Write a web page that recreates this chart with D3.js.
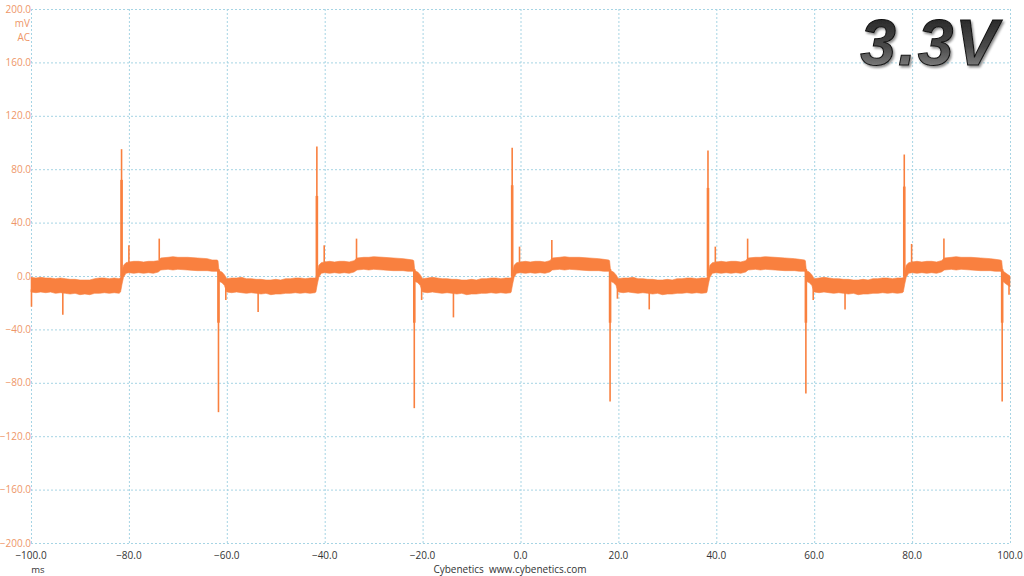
<!DOCTYPE html>
<html>
<head>
<meta charset="utf-8">
<script src="https://cdn.jsdelivr.net/npm/d3@7"></script>
<style>
  html, body { margin: 0; padding: 0; background: #fff; }
  svg { display: block; font-family: "Open Sans", "Noto Sans", sans-serif; }
</style>
</head>
<body>
<div id="chart"></div>
<script>
// ticks
var xTicks = [-100, -80, -60, -40, -20, 0, 20, 40, 60, 80, 100];
var yTicks = [-200, -160, -120, -80, -40, 0, 40, 80, 120, 160, 200];

// noise band of the trace: [time ms, lower mV, upper mV]
var envelope = [
  [-100.0, -12, -1], [-99.0, -12.5, -1.5], [-98.0, -12, -1], [-97.0, -12.5, -1.5],
  [-96.0, -12, -1.5], [-95.0, -13, -2], [-94.0, -12.5, -1.5], [-93.0, -13, -2],
  [-92.0, -13.5, -2.5], [-91.0, -13, -2.5], [-90.0, -14, -3], [-89.0, -13.5, -3],
  [-88.0, -14, -3], [-87.0, -13, -2], [-86.0, -13, -1.5], [-85.0, -12.5, -1.5],
  [-84.0, -13, -2], [-83.0, -12.5, -1.5], [-82.0, -13, -2], [-81.7, -12, -1],
  [-81.4, -6, 3], [-81.1, -1, 8], [-80.6, 2, 10], [-80.0, 2.5, 10.5],
  [-79.0, 2, 11], [-78.0, 2.5, 11], [-77.0, 2, 10.5], [-76.0, 2.5, 11],
  [-75.0, 2, 11], [-74.0, 3, 11.5], [-73.5, 4.5, 13.5], [-72.0, 5, 14],
  [-71.0, 4.5, 14.5], [-70.0, 5, 14], [-68.0, 4.5, 14], [-66.0, 4, 13.5],
  [-64.0, 4, 13], [-63.0, 3.5, 12], [-62.0, 3.5, 12], [-61.8, 3, 11.5],
  [-61.6, -4, 4], [-61.0, -5, 3], [-60.5, -7, 1], [-60.0, -12, -2],
  [-59.0, -12.5, -1.5], [-58.0, -12, -1.5], [-57.0, -12.5, -1], [-56.0, -13, -2],
  [-55.0, -12.5, -2], [-54.0, -13, -2.5], [-53.0, -13.5, -2.5], [-52.0, -13, -3],
  [-51.0, -14, -3], [-50.0, -13.5, -2.5], [-49.0, -13.5, -3], [-48.0, -13, -2],
  [-47.0, -13, -2], [-46.0, -12.5, -1.5], [-45.0, -13, -1.5], [-44.0, -12.5, -2],
  [-43.0, -13, -1.5], [-42.0, -12.5, -1.5], [-41.8, -12, -1],
  [-41.5, -6, 3], [-41.2, -1, 8], [-40.7, 2, 10], [-40.0, 2.5, 10.5],
  [-39.0, 2, 11], [-38.0, 2.5, 10.5], [-37.0, 2, 11], [-36.0, 2.5, 11],
  [-35.0, 2, 10.5], [-34.0, 3, 11.5], [-33.4, 4.5, 13.5], [-32.0, 5, 14],
  [-31.0, 4.5, 14], [-30.0, 5, 14.5], [-28.0, 4.5, 14], [-26.0, 4, 13.5],
  [-24.0, 4, 13], [-23.0, 3.5, 12.5], [-22.0, 3.5, 12], [-21.8, 3, 11.5],
  [-21.6, -4, 4], [-21.0, -5, 3], [-20.5, -7, 1], [-20.0, -12, -2],
  [-19.0, -12.5, -1.5], [-18.0, -12, -1], [-17.0, -12.5, -1.5], [-16.0, -13, -2],
  [-15.0, -12.5, -2], [-14.0, -13, -2.5], [-13.0, -13.5, -2.5], [-12.0, -13, -3],
  [-11.0, -14, -3], [-10.0, -13.5, -2.5], [-9.0, -13.5, -3], [-8.0, -13, -2],
  [-7.0, -13, -2], [-6.0, -12.5, -1.5], [-5.0, -13, -1.5], [-4.0, -12.5, -2],
  [-3.0, -13, -1.5], [-2.0, -12.5, -1.5], [-1.9, -12, -1],
  [-1.6, -6, 3], [-1.3, -1, 8], [-0.8, 2, 10], [0.0, 2.5, 10.5],
  [1.0, 2, 11], [2.0, 2.5, 10.5], [3.0, 2, 11], [4.0, 2.5, 11],
  [5.0, 2, 10.5], [6.0, 3, 11.5], [6.5, 4.5, 13.5], [8.0, 5, 14],
  [9.0, 4.5, 14.5], [10.0, 5, 14], [12.0, 4.5, 14], [14.0, 4, 13.5],
  [16.0, 4, 13], [17.0, 3.5, 12.5], [18.0, 3.5, 12], [18.2, 3, 11.5],
  [18.4, -4, 4], [19.0, -5, 3], [19.5, -7, 1], [20.0, -12, -2],
  [21.0, -12.5, -1.5], [22.0, -12, -1.5], [23.0, -12.5, -1], [24.0, -13, -2],
  [25.0, -12.5, -2], [26.0, -13, -2.5], [27.0, -13.5, -2.5], [28.0, -13, -3],
  [29.0, -14, -3], [30.0, -13.5, -2.5], [31.0, -13.5, -3], [32.0, -13, -2],
  [33.0, -13, -2], [34.0, -12.5, -1.5], [35.0, -13, -1.5], [36.0, -12.5, -2],
  [37.0, -13, -1.5], [38.0, -12.5, -1.5], [38.1, -12, -1],
  [38.4, -6, 3], [38.7, -1, 8], [39.2, 2, 10], [40.0, 2.5, 10.5],
  [41.0, 2, 11], [42.0, 2.5, 10.5], [43.0, 2, 11], [44.0, 2.5, 11],
  [45.0, 2, 10.5], [46.0, 3, 11.5], [46.5, 4.5, 13.5], [48.0, 5, 14],
  [49.0, 4.5, 14], [50.0, 5, 14.5], [52.0, 4.5, 14], [54.0, 4, 13.5],
  [56.0, 4, 13], [57.0, 3.5, 12.5], [58.0, 3.5, 12], [58.2, 3, 11.5],
  [58.4, -4, 4], [59.0, -5, 3], [59.5, -7, 1], [60.0, -12, -2],
  [61.0, -12.5, -1.5], [62.0, -12, -1], [63.0, -12.5, -1.5], [64.0, -13, -2],
  [65.0, -12.5, -2], [66.0, -13, -2.5], [67.0, -13.5, -2.5], [68.0, -13, -3],
  [69.0, -14, -3], [70.0, -13.5, -2.5], [71.0, -13.5, -3], [72.0, -13, -2],
  [73.0, -13, -2], [74.0, -12.5, -1.5], [75.0, -13, -1.5], [76.0, -12.5, -2],
  [77.0, -13, -1.5], [78.0, -12.5, -1.5], [78.2, -12, -1],
  [78.5, -6, 3], [78.8, -1, 8], [79.3, 2, 10], [80.0, 2.5, 10.5],
  [81.0, 2, 11], [82.0, 2.5, 10.5], [83.0, 2, 11], [84.0, 2.5, 11],
  [85.0, 2, 10.5], [86.0, 3, 11.5], [86.6, 4.5, 13.5], [88.0, 5, 14],
  [89.0, 4.5, 14.5], [90.0, 5, 14], [92.0, 4.5, 14], [94.0, 4, 13.5],
  [96.0, 4, 13], [97.0, 3.5, 12.5], [98.0, 3.5, 12], [98.3, 3, 11.5],
  [98.5, -4, 4], [99.2, -6, 2], [100.0, -8, 0]
];

// spikes: [time ms, base mV, peak mV, end of thick part mV]
var spikes = [
  [-99.9, -10, -23, -10],
  [-93.5, -12, -29, -12], [-81.5, 0, 95, 72], [-80.0, 10, 23, 10], [-73.8, 12, 28, 12],
  [-61.7, 5, -102, -35], [-60.2, -8, -18, -8],
  [-53.6, -12, -27, -12], [-41.6, 0, 97, 60], [-40.1, 10, 23, 10], [-33.5, 12, 28, 12],
  [-21.7, 5, -99, -35], [-20.2, -8, -18, -8],
  [-13.7, -12, -31, -12], [-1.7, 0, 96, 68], [-0.2, 10, 22, 10], [6.4, 12, 27, 12],
  [18.3, 5, -94, -35], [19.8, -8, -17, -8],
  [26.3, -12, -25, -12], [38.3, 0, 94, 66], [39.8, 10, 22, 10], [46.4, 12, 28, 12],
  [58.3, 5, -88, -35], [59.8, -8, -18, -8],
  [66.3, -12, -25, -12], [78.4, 0, 91, 67], [79.9, 10, 24, 10], [86.5, 12, 28, 12],
  [98.4, 5, -94, -35], [99.8, -6, -14, -6]
];

var W = 1024, H = 576;
var orange = "#f9803f";
var labelOrange = "#ee9668";

var x = d3.scaleLinear().domain([-100, 100]).range([31, 1010]);
var y = d3.scaleLinear().domain([-200, 200]).range([543, 9]);

var svg = d3.select("#chart").append("svg")
  .attr("width", W).attr("height", H);

// grid
svg.append("g").selectAll("line").data(xTicks).enter().append("line")
  .attr("x1", function(d){ return x(d) + 0.5; }).attr("x2", function(d){ return x(d) + 0.5; })
  .attr("y1", y(200)).attr("y2", y(-200))
  .attr("stroke", "#a6d4e4").attr("stroke-width", 1).attr("stroke-dasharray", "2,2");

svg.append("g").selectAll("line").data(yTicks).enter().append("line")
  .attr("x1", x(-100)).attr("x2", x(100))
  .attr("y1", function(d){ return y(d) + 0.5; }).attr("y2", function(d){ return y(d) + 0.5; })
  .attr("stroke", "#a6d4e4").attr("stroke-width", 1).attr("stroke-dasharray", "2,2");

// y tick labels
svg.append("g").selectAll("text").data(yTicks).enter().append("text")
  .attr("x", 31).attr("y", function(d){ return y(d) + 3.5; })
  .attr("text-anchor", "end").attr("font-size", 10).attr("fill", labelOrange)
  .text(function(d){ return d3.format(".1f")(d); });

svg.append("text").attr("x", 30).attr("y", 27).attr("text-anchor", "end")
  .attr("font-size", 10).attr("fill", labelOrange).text("mV");
svg.append("text").attr("x", 30).attr("y", 41).attr("text-anchor", "end")
  .attr("font-size", 10).attr("fill", labelOrange).text("AC");

// x tick labels
svg.append("g").selectAll("text").data(xTicks).enter().append("text")
  .attr("x", function(d){ return x(d); }).attr("y", 559)
  .attr("text-anchor", "middle").attr("font-size", 10).attr("fill", "#333")
  .text(function(d){ return d3.format(".1f")(d); });

svg.append("text").attr("x", 38).attr("y", 573).attr("text-anchor", "middle")
  .attr("font-size", 9.5).attr("fill", "#333").text("ms");

svg.append("text").attr("x", 510).attr("y", 573).attr("text-anchor", "middle")
  .attr("font-size", 10).attr("fill", "#333")
  .text("Cybenetics\u00a0\u00a0www.cybenetics.com");

// trace band
var area = d3.area()
  .x(function(d){ return x(d[0]); })
  .y0(function(d){ return y(d[1]); })
  .y1(function(d){ return y(d[2]); });

svg.append("path").datum(envelope)
  .attr("d", area).attr("fill", orange)
  .attr("stroke", orange).attr("stroke-width", 0.6);

// spikes
svg.append("g").selectAll("line").data(spikes).enter().append("line")
  .attr("x1", function(d){ return x(d[0]); }).attr("x2", function(d){ return x(d[0]); })
  .attr("y1", function(d){ return y(d[1]); }).attr("y2", function(d){ return y(d[3]); })
  .attr("stroke", orange).attr("stroke-width", 2.6);

svg.append("g").selectAll("line").data(spikes).enter().append("line")
  .attr("x1", function(d){ return x(d[0]); }).attr("x2", function(d){ return x(d[0]); })
  .attr("y1", function(d){ return y(d[1]); }).attr("y2", function(d){ return y(d[2]); })
  .attr("stroke", orange).attr("stroke-width", 1.6);

// badge
var defs = svg.append("defs");
var grad = defs.append("linearGradient").attr("id", "vgrad")
  .attr("x1", 0).attr("y1", 0).attr("x2", 0).attr("y2", 1);
grad.append("stop").attr("offset", "0%").attr("stop-color", "#1c1c1c");
grad.append("stop").attr("offset", "55%").attr("stop-color", "#4a4a4a");
grad.append("stop").attr("offset", "100%").attr("stop-color", "#9a9a9a");
var f = defs.append("filter").attr("id", "vshadow")
  .attr("x", "-10%").attr("y", "-10%").attr("width", "130%").attr("height", "140%");
f.append("feDropShadow").attr("dx", 1.5).attr("dy", 2).attr("stdDeviation", 1.2)
  .attr("flood-color", "#000").attr("flood-opacity", 0.45);

svg.append("text").attr("x", 1000).attr("y", 65).attr("text-anchor", "end")
  .attr("font-family", "'Liberation Sans', Arial, sans-serif")
  .attr("font-size", 64).attr("font-weight", "bold").attr("font-style", "italic")
  .attr("letter-spacing", 2)
  .attr("fill", "url(#vgrad)").attr("stroke", "#111").attr("stroke-width", 1)
  .attr("filter", "url(#vshadow)")
  .text("3.3V");
</script>
</body>
</html>
